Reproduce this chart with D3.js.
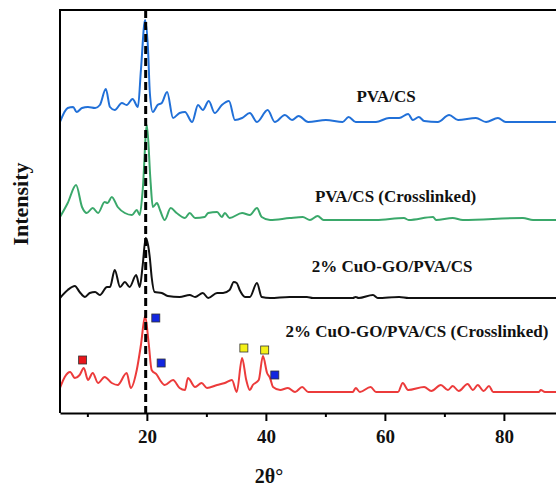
<!DOCTYPE html>
<html>
<head>
<meta charset="utf-8">
<script src="https://cdn.jsdelivr.net/npm/d3@7"></script>
<style>
  body { margin: 0; background: #fff; }
  svg { display: block; }
  text { font-family: "Liberation Serif", "Times New Roman", serif; font-weight: bold; fill: #111; }
</style>
</head>
<body>
<svg id="chart" width="556" height="489"></svg>
<script>
// XRD patterns: [2theta (deg), intensity above the pattern's own baseline (a.u.)]
const pvaCs = [[5.4,0],[6.7,140],[7.6,150],[8.2,100],[9.1,140],[10.1,150],[11.3,140],[12.1,170],[13.1,330],[13.8,150],
    [14.6,120],[15.8,190],[16.6,170],[17.6,230],[18.5,150],[19.0,520],[19.7,1020],[20.2,720],[20.5,290],[21.0,100],
    [21.8,170],[22.5,190],[23.4,300],[24.4,40],[25.5,90],[26.4,100],[27.6,0],[28.6,170],[29.4,120],[30.4,210],
    [31.4,90],[32.6,170],[33.8,210],[34.8,20],[36.0,40],[37.3,90],[38.5,0],[40.3,120],[41.5,0],[43.2,70],
    [44.4,20],[45.5,60],[47.1,0],[50.1,20],[52.9,0],[53.9,50],[55.1,0],[58.5,0],[60.7,40],[62.4,40],
    [63.9,80],[64.7,20],[65.7,50],[66.6,10],[68.9,0],[70.8,70],[72.3,20],[75.3,40],[77.0,0],[79.0,40],
    [80.3,0],[90,0]];
const pvaCsCross = [[5.4,30],[6.7,170],[8.1,350],[9.1,130],[9.9,70],[10.9,120],[11.8,70],[12.9,180],[13.4,170],[14.1,230],
    [15.1,130],[16.3,70],[17.5,50],[18.3,100],[18.8,50],[19.3,300],[20.0,950],[20.6,400],[21.0,130],[21.7,170],
    [22.2,100],[23.0,0],[24.0,120],[25.0,70],[26.4,20],[27.2,70],[28.1,20],[29.7,30],[30.3,70],[31.8,80],
    [32.6,30],[33.1,70],[33.9,20],[36.0,70],[37.3,50],[38.5,120],[39.3,30],[40.7,0],[44.0,20],[46.2,30],
    [47.4,0],[48.7,40],[49.7,0],[58.5,0],[63.2,20],[64.0,0],[68.1,30],[68.6,0],[71.4,20],[73.1,0],
    [83.2,20],[84.9,0],[90,0]];
const cuoGo = [[5.4,0],[6.7,80],[7.9,120],[8.7,60],[9.6,10],[10.4,50],[11.3,60],[12.1,30],[13.3,110],[13.8,110],
    [14.6,280],[15.5,110],[16.3,160],[17.1,110],[18.2,230],[18.8,110],[19.3,330],[19.8,600],[20.2,530],[20.5,400],
    [20.8,210],[21.3,60],[22.5,50],[23.5,20],[25.5,10],[27.2,30],[28.1,10],[29.4,50],[30.3,0],[31.8,50],
    [32.8,50],[33.9,80],[34.6,160],[35.1,150],[35.6,80],[36.5,10],[37.3,10],[38.5,150],[39.3,10],[40.7,0],
    [44.0,10],[46.9,10],[47.9,0],[54.6,0],[55.1,10],[55.6,0],[58.0,30],[58.8,0],[62.4,10],[64.0,0],[90,0]];
const cuoGoCross = [[5.4,40],[6.2,150],[7.1,200],[7.9,140],[8.7,170],[9.4,240],[10.1,120],[10.9,190],[11.8,90],[12.9,150],
    [14.1,90],[15.1,70],[16.6,190],[17.3,40],[18.3,220],[19.0,470],[19.7,760],[20.3,490],[20.8,220],[21.7,170],
    [22.2,120],[23.0,70],[24.4,120],[25.5,40],[26.4,20],[26.9,140],[28.1,50],[29.2,90],[30.1,40],[31.8,70],
    [33.1,90],[34.3,120],[35.1,0],[36.0,340],[36.7,120],[37.3,20],[37.8,70],[38.8,120],[39.5,360],[40.2,190],
    [40.7,140],[41.2,50],[42.4,20],[43.7,40],[44.9,0],[46.1,50],[47.1,0],[54.6,0],[55.1,40],[55.8,0],
    [57.6,50],[58.5,0],[62.2,0],[63.0,90],[63.9,20],[66.6,50],[67.8,10],[69.4,70],[70.6,20],[71.4,60],
    [72.4,10],[73.9,80],[74.8,20],[75.6,70],[76.6,10],[77.5,60],[78.2,0],[85.9,0],[86.2,20],[86.9,0],[90,0]];

const seriesNames = ['PVA/CS', 'PVA/CS (Crosslinked)', '2% CuO-GO/PVA/CS', '2% CuO-GO/PVA/CS (Crosslinked)'];
const seriesOffsets = [2910, 1930, 1150, 210];

// phase markers on the crosslinked composite pattern
const markerTheta = [9.2, 21.5, 22.4, 36.3, 39.8, 41.5];
const markerValue = [320, 740, 290, 440, 420, 170];
const markerPhase = ['GO', 'PVA', 'PVA', 'CuO', 'CuO', 'PVA'];

const majorTicks = [20, 40, 60, 80];
const minorTicks = [10, 30, 50, 70, 90];
const refTheta = 19.8;

const svg = d3.select('#chart');
const colors = ['#2170d8', '#3aa86a', '#111111', '#ec3b3b'];
const phaseColor = d3.scaleOrdinal().domain(['GO', 'PVA', 'CuO']).range(['#e8151b', '#1226e0', '#f4f018']);

const x = d3.scaleLinear().domain([5.4, 90]).range([60, 563.4]);
const y = d3.scaleLinear().domain([0, 4030]).range([413, 10]);

svg.append('clipPath').attr('id', 'plot-clip')
    .append('rect')
    .attr('x', x(5.4)).attr('y', y(4030))
    .attr('width', x(90) - x(5.4)).attr('height', y(0) - y(4030));

const plot = svg.append('g').attr('clip-path', 'url(#plot-clip)');

const allSeries = [pvaCs, pvaCsCross, cuoGo, cuoGoCross];

allSeries.forEach((data, i) => {
    const line = d3.line()
        .x(d => x(d[0]))
        .y(d => y(d[1] + seriesOffsets[i]))
        .curve(d3.curveMonotoneX);
    plot.append('path')
        .datum(data)
        .attr('fill', 'none')
        .attr('stroke', colors[i])
        .attr('stroke-width', 2)
        .attr('stroke-linejoin', 'round')
        .attr('d', line);
});

// reference line through the main PVA/CS reflection
svg.append('line')
    .attr('x1', x(refTheta)).attr('x2', x(refTheta))
    .attr('y1', y(4030)).attr('y2', y(0))
    .attr('stroke', '#000')
    .attr('stroke-width', 3)
    .attr('stroke-dasharray', '8,4');

// phase markers
svg.selectAll('.marker')
    .data(markerTheta.map((t, i) => ({t: t, v: markerValue[i], p: markerPhase[i]})))
    .join('rect')
    .attr('class', 'marker')
    .attr('x', d => x(d.t) - 4)
    .attr('y', d => y(d.v + seriesOffsets[3]) - 4)
    .attr('width', 8).attr('height', 8)
    .attr('fill', d => phaseColor(d.p))
    .attr('stroke', '#333')
    .attr('stroke-width', 0.8);

// frame
svg.append('path')
    .attr('fill', 'none')
    .attr('stroke', '#000')
    .attr('stroke-width', 2)
    .attr('d', `M${x(90)},${y(4030)}H${x(5.4)}V${y(0)}`);

// x axis
const xAxisMajor = svg.append('g')
    .attr('transform', `translate(0,${y(0)})`)
    .call(d3.axisBottom(x).tickValues(majorTicks).tickSize(8).tickSizeOuter(0));
xAxisMajor.select('.domain').attr('stroke-width', 2);
xAxisMajor.selectAll('.tick line').attr('stroke-width', 2);
xAxisMajor.selectAll('.tick text')
    .attr('y', 30).attr('dy', 0)
    .attr('font-size', '19px')
    .attr('font-family', '"Liberation Serif", serif')
    .attr('font-weight', 'bold')
    .attr('fill', '#111');

const xAxisMinor = svg.append('g')
    .attr('transform', `translate(0,${y(0)})`)
    .call(d3.axisBottom(x).tickValues(minorTicks).tickSize(4).tickSizeOuter(0).tickFormat(''));
xAxisMinor.select('.domain').remove();
xAxisMinor.selectAll('.tick line').attr('stroke-width', 2);

// series labels
const labelPos = [[60.2, 3110], [61.8, 2110], [61.2, 1410], [65.4, 760]];
svg.selectAll('.series-label')
    .data(seriesNames)
    .join('text')
    .attr('class', 'series-label')
    .attr('x', (d, i) => x(labelPos[i][0]))
    .attr('y', (d, i) => y(labelPos[i][1]))
    .attr('text-anchor', 'middle')
    .attr('font-size', '17px')
    .text(d => d);

// axis titles
svg.append('text')
    .attr('x', 269).attr('y', 483)
    .attr('text-anchor', 'middle')
    .attr('font-size', '20px')
    .text('2θ°');

svg.append('text')
    .attr('transform', 'translate(28,204) rotate(-90)')
    .attr('text-anchor', 'middle')
    .attr('font-size', '22px')
    .text('Intensity');
</script>
</body>
</html>
